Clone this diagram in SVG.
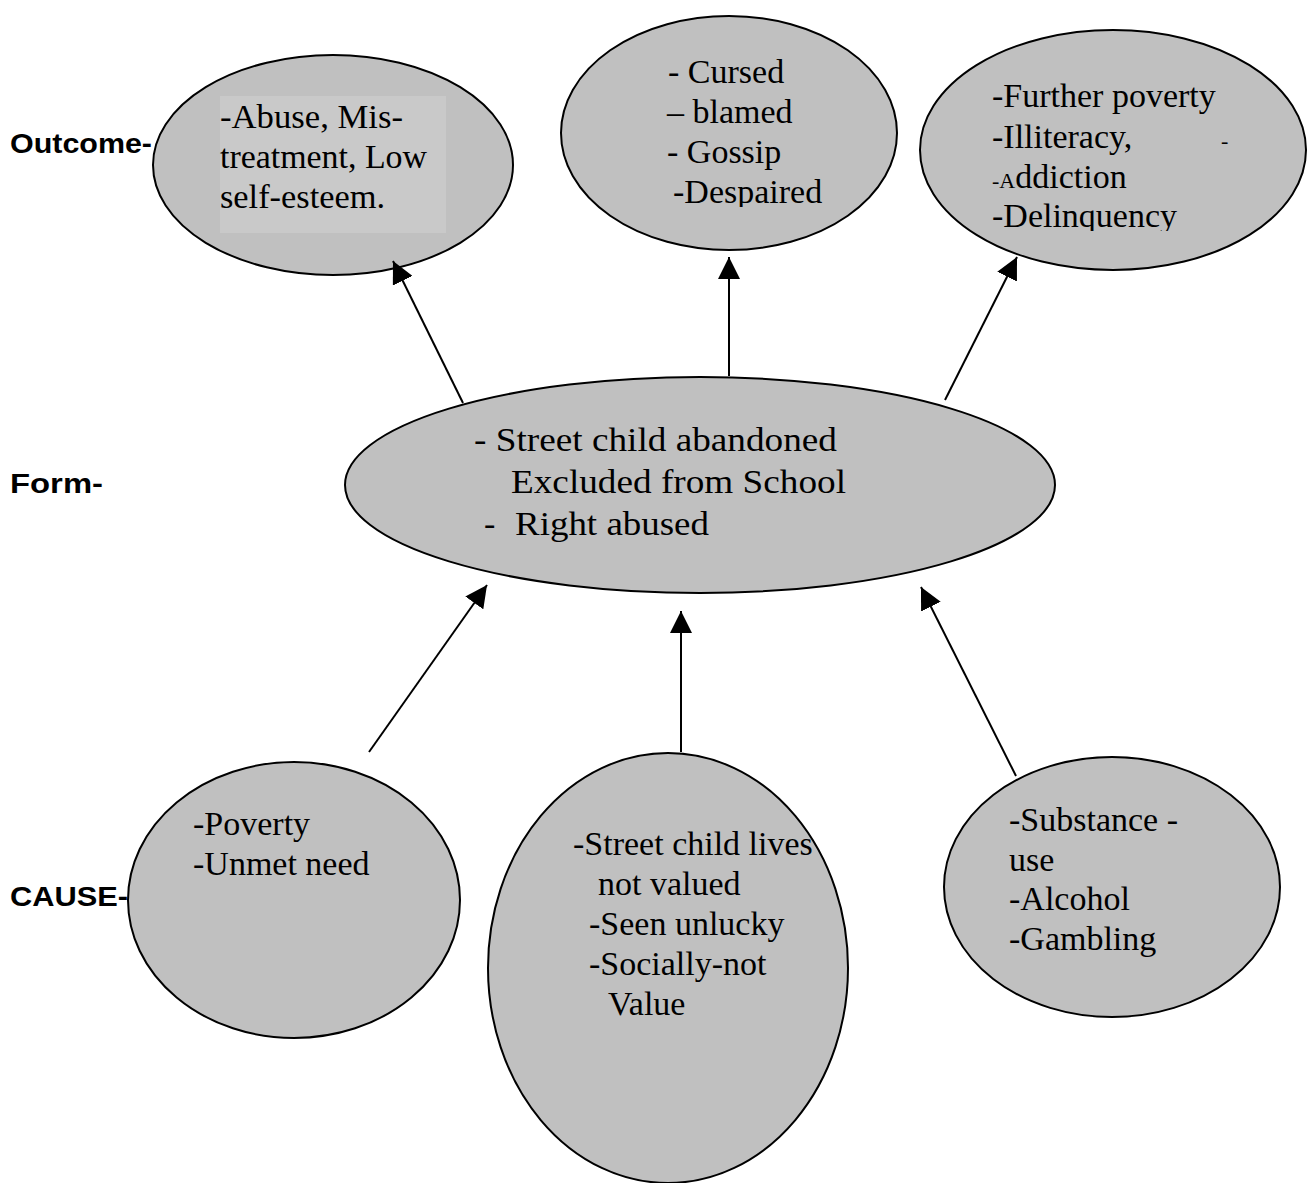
<svg xmlns="http://www.w3.org/2000/svg" width="1311" height="1183" viewBox="0 0 1311 1183">
<style>
.node{fill:#c0c0c0;stroke:#000;stroke-width:2}
.t{font-family:"Liberation Serif","Times New Roman",serif;font-size:34px;fill:#000}
.s{font-size:22px}
.lbl{font-family:"Liberation Sans",Arial,sans-serif;font-size:28px;font-weight:bold;fill:#000}
.edge{stroke:#000;stroke-width:2;fill:none;marker-end:url(#ah)}
</style>
<defs>
<marker id="ah" markerUnits="userSpaceOnUse" markerWidth="22" markerHeight="22" refX="20" refY="10" orient="auto" viewBox="0 0 20 20">
<path d="M0,0 L20,10 L0,20 z" fill="#000"/>
</marker>
<clipPath id="clipMid"><rect x="560" y="0" width="340" height="207"/></clipPath>
<clipPath id="clipRight"><rect x="920" y="0" width="390" height="231"/></clipPath>
</defs>
<rect width="1311" height="1183" fill="#fff"/>

<g id="labels">
<text class="lbl" x="10" y="153" textLength="142" lengthAdjust="spacingAndGlyphs">Outcome-</text>
<text class="lbl" x="10" y="493" textLength="93" lengthAdjust="spacingAndGlyphs">Form-</text>
<text class="lbl" x="10" y="906" textLength="118" lengthAdjust="spacingAndGlyphs">CAUSE-</text>
</g>

<g id="outcome-left">
<ellipse class="node" cx="333" cy="165" rx="180" ry="110"/>
<rect x="220" y="96" width="226" height="137" fill="#c9c9c9"/>
<text class="t" x="220" y="128" textLength="183" lengthAdjust="spacingAndGlyphs">-Abuse, Mis-</text>
<text class="t" x="220" y="168" textLength="207" lengthAdjust="spacingAndGlyphs">treatment, Low</text>
<text class="t" x="220" y="208" textLength="165" lengthAdjust="spacingAndGlyphs">self-esteem.</text>
</g>

<g id="outcome-middle">
<ellipse class="node" cx="729" cy="133" rx="168" ry="117"/>
<g clip-path="url(#clipMid)">
<text class="t" x="668" y="83">- Cursed</text>
<text class="t" x="667" y="123">– blamed</text>
<text class="t" x="667" y="163">- Gossip</text>
<text class="t" x="673" y="203">-Despaired</text>
</g>
</g>

<g id="outcome-right">
<ellipse class="node" cx="1113" cy="150" rx="193" ry="120"/>
<g clip-path="url(#clipRight)">
<text class="t" x="992" y="107">-Further poverty</text>
<text class="t" x="992" y="148">-Illiteracy,</text>
<text class="t s" x="1221" y="148">-</text>
<text class="t" x="992" y="188"><tspan class="s">-A</tspan>ddiction</text>
<text class="t" x="992" y="227">-Delinquency</text>
</g>
</g>

<g id="form">
<ellipse class="node" cx="700" cy="485" rx="355" ry="108"/>
<text class="t" x="474" y="451" textLength="363" lengthAdjust="spacingAndGlyphs">- Street child abandoned</text>
<text class="t" x="511" y="493" textLength="335" lengthAdjust="spacingAndGlyphs">Excluded from School</text>
<text class="t" x="484" y="535">-</text>
<text class="t" x="515" y="535" textLength="194" lengthAdjust="spacingAndGlyphs">Right abused</text>
</g>

<g id="cause-left">
<ellipse class="node" cx="294" cy="900" rx="166" ry="138"/>
<text class="t" x="193" y="835">-Poverty</text>
<text class="t" x="193" y="875">-Unmet need</text>
</g>

<g id="cause-middle">
<ellipse class="node" cx="668" cy="968" rx="180" ry="215"/>
<text class="t" x="573" y="855">-Street child lives</text>
<text class="t" x="598" y="895">not valued</text>
<text class="t" x="589" y="935">-Seen unlucky</text>
<text class="t" x="589" y="975">-Socially-not</text>
<text class="t" x="608" y="1015">Value</text>
</g>

<g id="cause-right">
<ellipse class="node" cx="1112" cy="887" rx="168" ry="130"/>
<text class="t" x="1009" y="831">-Substance -</text>
<text class="t" x="1009" y="871">use</text>
<text class="t" x="1009" y="910">-Alcohol</text>
<text class="t" x="1009" y="950">-Gambling</text>
</g>

<g id="connectors">
<line class="edge" x1="463" y1="403" x2="393" y2="261"/>
<line class="edge" x1="729" y1="376" x2="729" y2="257"/>
<line class="edge" x1="945" y1="400" x2="1017" y2="257"/>
<line class="edge" x1="369" y1="752" x2="487" y2="585"/>
<line class="edge" x1="681" y1="752" x2="681" y2="611"/>
<line class="edge" x1="1016" y1="776" x2="921" y2="587"/>
</g>
</svg>
